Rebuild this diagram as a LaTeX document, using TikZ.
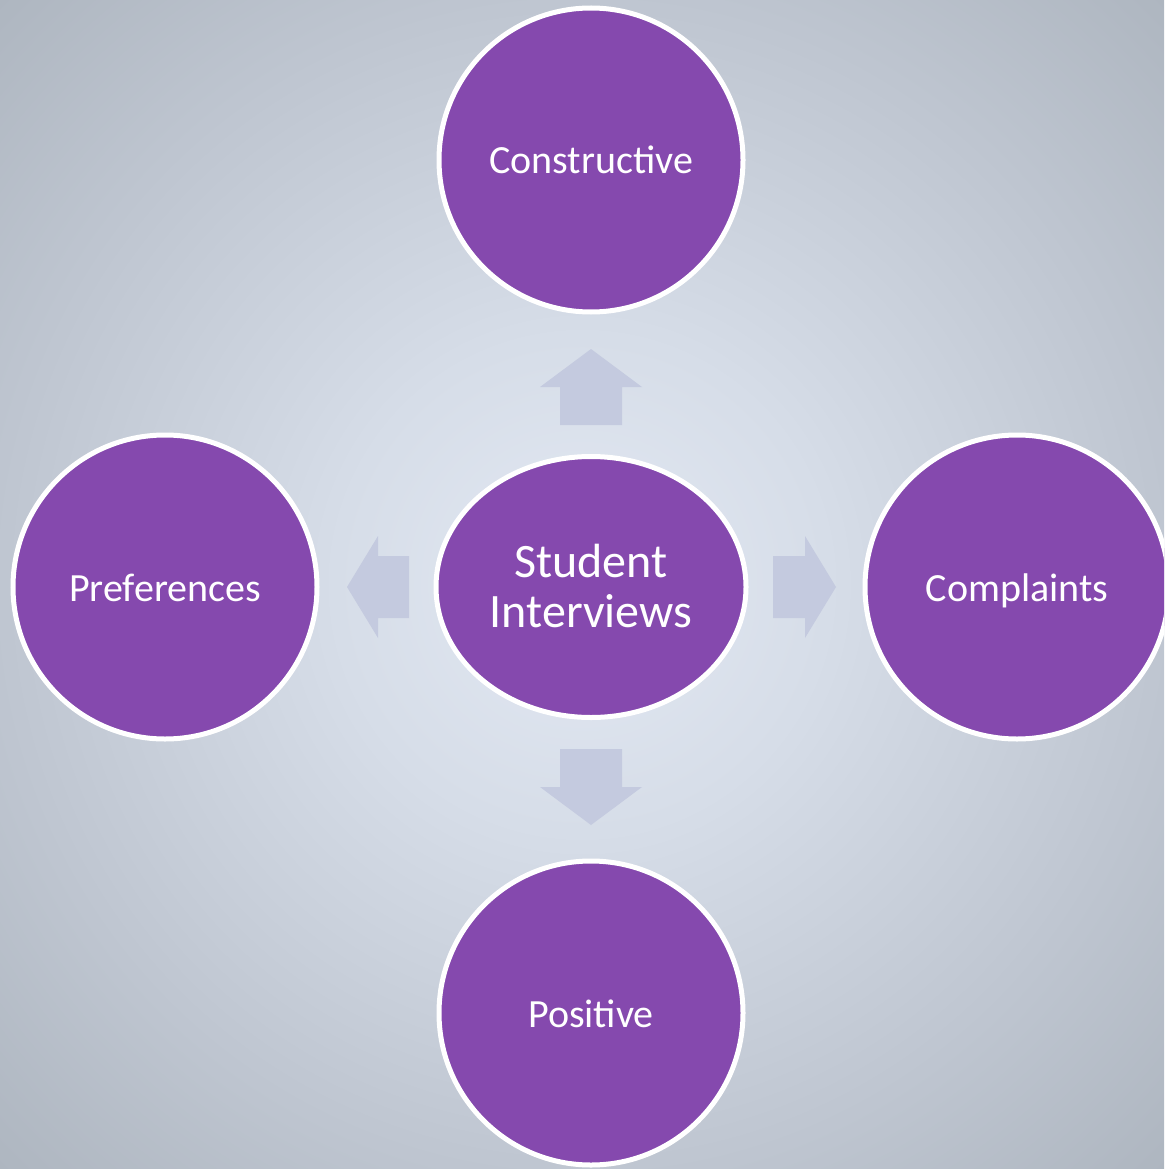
\documentclass[tikz,border=0pt]{standalone}
\usepackage{fontspec}
\setmainfont{Carlito}
\usetikzlibrary{shapes.geometric}
\definecolor{bgA}{HTML}{E3E9F3}
\definecolor{bgB}{HTML}{D6DDE8}
\definecolor{bgC}{HTML}{BFC6D1}
\definecolor{bgD}{HTML}{AEB6C0}
\definecolor{purp}{HTML}{8549AE}
\definecolor{arrowc}{HTML}{C4CADF}
\pgfdeclareradialshading{bgshade}{\pgfpoint{0bp}{0bp}}{color(0bp)=(bgA); color(10.6bp)=(bgB); color(24.8bp)=(bgC); color(35.4bp)=(bgD); color(50bp)=(bgD)}
\tikzset{
  bubble/.style={circle, draw=white, line width=5pt, fill=purp, text=white,
    minimum size=304pt, inner sep=0pt, font=\fontsize{40}{48}\selectfont,
    text height=28pt, text depth=0pt},
  hub/.style={ellipse, draw=white, line width=5pt, fill=purp, text=white,
    minimum width=310pt, minimum height=261pt, inner sep=0pt, align=center,
    font=\fontsize{48}{50}\selectfont, text height=80pt, text depth=0pt},
  blockarrow/.style={fill=arrowc, draw=none}
}
\begin{document}
\begin{tikzpicture}[x=1pt,y=-1pt]
\useasboundingbox (0,0) rectangle (1164,1169);
\clip (0,0) rectangle (1164,1169);
\shade[shading=bgshade] (0,0) rectangle (1164,1169);
% block arrows
\fill[blockarrow] (560,425) -- (560,387) -- (540,387) -- (591,349) -- (642,387) -- (622,387) -- (622,425) -- cycle;
\fill[blockarrow] (560,749) -- (560,787) -- (540,787) -- (591,825) -- (642,787) -- (622,787) -- (622,749) -- cycle;
\fill[blockarrow] (773,556) -- (805,556) -- (805,536) -- (836,587) -- (805,638) -- (805,618) -- (773,618) -- cycle;
\fill[blockarrow] (409,556) -- (378,556) -- (378,536) -- (347,587) -- (378,638) -- (378,618) -- (409,618) -- cycle;
% nodes
\node[hub] (center) at (591,587) {Student\\Interviews};
\node[bubble] (top) at (591,160) {Constructive};
\node[bubble] (left) at (165,587) {Preferences};
\node[bubble] (right) at (1017,587) {Complaints};
\node[bubble] (bottom) at (591,1013) {Positive};
\end{tikzpicture}
\end{document}
